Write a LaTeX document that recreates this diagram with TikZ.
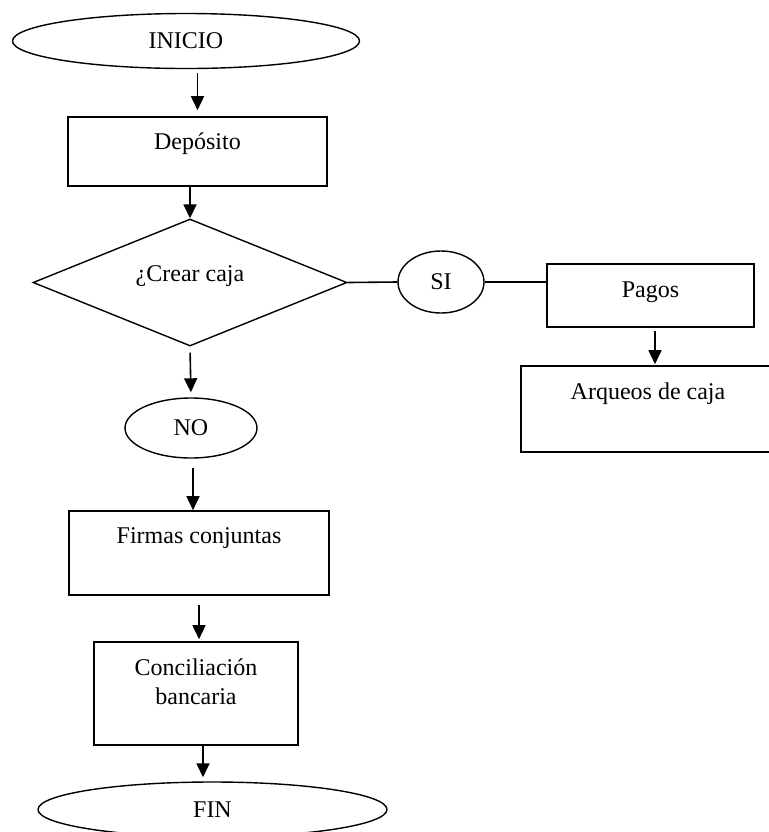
\documentclass[tikz,border=0pt]{standalone}
\usepackage{fontspec}
\setmainfont{Liberation Serif}
\usetikzlibrary{shapes.geometric, arrows.meta}
\begin{document}
\begin{tikzpicture}[x=0.5pt, y=-0.5pt, >={Triangle[length=7pt, width=6.5pt]},
      font=\fontsize{12}{14.5}\selectfont,
      terminal/.style={ellipse, draw, line width=0.7pt, inner sep=0pt},
      process/.style={rectangle, draw, line width=0.8pt, inner sep=0pt,
                      text height=8pt},
      question/.style={diamond, draw, line width=0.7pt, inner sep=0pt,
                       aspect=2.47, text height=8pt},
      flow/.style={->, line width=0.8pt},
      link/.style={line width=0.8pt},
    ]

    \useasboundingbox (0,0) rectangle (769,832);
    \clip (0,0) rectangle (769,832);

    % Main column
    \node[terminal, minimum width=173.5pt, minimum height=27.5pt]
      (inicio) at (186,41) {INICIO};
    \node[process, minimum width=129.5pt, minimum height=34.5pt, text depth=10pt]
      (deposito) at (197.5,151.5) {Depósito};
    \node[question, minimum width=157pt, minimum height=63.5pt, text depth=9.2pt]
      (crear) at (190,282.5) {¿Crear caja};
    \node[terminal, minimum width=66pt, minimum height=30pt]
      (no) at (191,428) {NO};
    \node[process, minimum width=130pt, minimum height=42pt, text depth=17.2pt]
      (firmas) at (199,553) {Firmas conjuntas};
    \node[process, minimum width=102pt, minimum height=51.5pt, align=center,
          text height=22.5pt, text depth=11.2pt]
      (concil) at (196,693.5) {Conciliación\\bancaria};
    \node[terminal, minimum width=174.5pt, minimum height=27.5pt]
      (fin) at (212.5,809.5) {FIN};

    % Right branch
    \node[terminal, minimum width=43pt, minimum height=31pt]
      (si) at (441,282) {SI};
    \node[process, minimum width=103.5pt, minimum height=31.5pt, text depth=5.7pt]
      (pagos) at (650.5,295.5) {Pagos};
    \node[process, minimum width=127pt, minimum height=43pt, text depth=17.2pt]
      (arqueos) at (648,409) {Arqueos de caja};

    % Arrows down the main column
    \draw[flow, shorten <=2pt, shorten >=3pt]
      (inicio.south -| deposito.north) -- (deposito.north);
    \draw[flow] (deposito.south -| crear.north) -- (crear.north);
    \draw[flow, shorten <=3pt, shorten >=2.5pt] (crear.south) -- (no.north);
    \draw[flow, shorten <=4.5pt] ([xshift=1pt]no.south) -- ([xshift=1pt]no.south |- firmas.north);
    \draw[flow, shorten <=4.5pt, shorten >=1pt] (firmas.south) -- (firmas.south |- concil.north);
    \draw[flow, shorten >=2pt]
      ([xshift=3.5pt]concil.south) -- ([xshift=3.5pt]concil.south |- fin.north);

    % SI branch
    \draw[link] (crear.east) -- (si.west);
    \draw[link] (si.east) -- (si.east -| pagos.west);
    \draw[flow, shorten <=1.5pt, shorten >=0.5pt]
      ([xshift=2.25pt]pagos.south) -- ([xshift=2.25pt]pagos.south |- arqueos.north);

  \end{tikzpicture}
\end{document}
